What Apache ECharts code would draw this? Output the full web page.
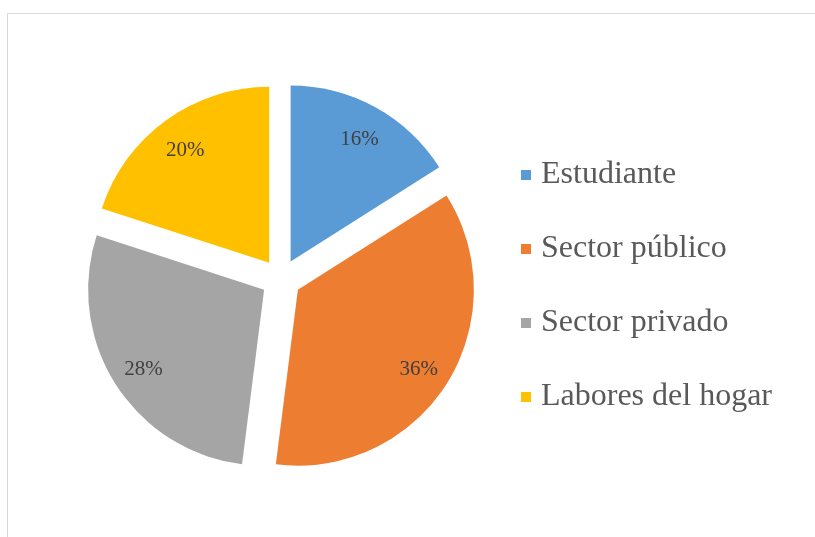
<!DOCTYPE html>
<html>
<head>
<meta charset="utf-8">
<script src="https://cdn.jsdelivr.net/npm/echarts@6/dist/echarts.min.js"></script>
<style>
  html, body { margin: 0; padding: 0; background: #fff; }
  #main { width: 815px; height: 537px; }
</style>
</head>
<body>
<div id="main"></div>
<script>
var categories = ['Estudiante', 'Sector público', 'Sector privado', 'Labores del hogar'];
var values = [16, 36, 28, 20];
var colors = ['#5B9BD5', '#ED7D31', '#A5A5A5', '#FFC000'];

var chart = echarts.init(document.getElementById('main'));

function pieData(withColor) {
    var list = [];
    for (var i = 0; i < categories.length; i++) {
        list.push({
            name: categories[i],
            value: values[i],
            selected: true,
            itemStyle: { color: withColor ? colors[i] : 'rgba(0,0,0,0)' }
        });
    }
    return list;
}

var option = {
    animation: false,
    graphic: [{
        type: 'rect',
        shape: { x: 7.5, y: 13.5, width: 900, height: 600 },
        style: { fill: 'none', stroke: '#d9d9d9', lineWidth: 1 },
        silent: true
    }],
    legend: {
        orient: 'vertical',
        left: 516,
        top: 154,
        icon: 'rect',
        itemWidth: 10,
        itemHeight: 10,
        itemGap: 42,
        selectedMode: false,
        data: categories,
        textStyle: {
            fontFamily: 'Liberation Serif',
            fontSize: 32,
            lineHeight: 32,
            color: '#595959',
            padding: [0, 0, 0, 5]
        }
    },
    series: [
        {
            // visible slices
            type: 'pie',
            center: [281, 279],
            radius: [0, 176],
            startAngle: 90,
            clockwise: true,
            selectedMode: 'multiple',
            selectedOffset: 20,
            silent: true,
            label: { show: false },
            labelLine: { show: false },
            data: pieData(true)
        },
        {
            // transparent ring only to carry the percentage labels
            type: 'pie',
            center: [281, 282],
            radius: [104, 176],
            startAngle: 90,
            clockwise: true,
            selectedMode: 'multiple',
            selectedOffset: 20,
            silent: true,
            label: {
                show: true,
                position: 'inside',
                formatter: '{c}%',
                fontFamily: 'Liberation Serif',
                fontSize: 21,
                color: '#404040'
            },
            labelLine: { show: false },
            data: pieData(false)
        }
    ]
};
chart.setOption(option);
</script>
</body>
</html>
